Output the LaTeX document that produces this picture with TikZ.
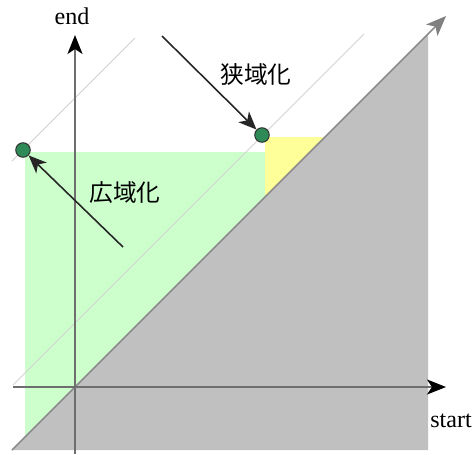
\documentclass[tikz,border=0pt]{standalone}
\usepackage{fontspec}
\setmainfont{Liberation Serif}
\newfontfamily\jpfont{Noto Sans CJK JP}
\usetikzlibrary{arrows.meta, positioning, calc}
\definecolor{regiongray}{HTML}{C0C0C0}
\definecolor{widegreen}{HTML}{CCFFCC}
\definecolor{narrowyellow}{HTML}{FFFF99}
\definecolor{dotgreen}{HTML}{2E8B57}
\definecolor{axisgray}{HTML}{6E6E6E}
\tikzset{
  axis/.style   ={draw=axisgray, line width=1.1pt,
                  -{Stealth[length=0.38cm,width=0.3cm,inset=0.1cm,black]}},
  diag/.style   ={draw=black!45, line width=0.9pt,
                  -{Stealth[length=0.4cm,width=0.32cm,inset=0.1cm,black!50]}},
  isoline/.style={draw=black!18, line width=0.5pt},
  pt/.style     ={circle, draw=black!80, fill=dotgreen, line width=0.6pt,
                  minimum size=0.29cm, inner sep=0pt},
  arr/.style    ={-{Stealth[length=0.36cm,width=0.3cm,inset=0.1cm]},
                  line width=0.9pt, black!85},
  axlbl/.style  ={font=\fontsize{13.7}{16}\selectfont},
  jplbl/.style  ={font=\jpfont\fontsize{13.5}{16}\selectfont},
}
\begin{document}
\begin{tikzpicture}[x=0.02cm, y=-0.02cm]
\useasboundingbox (0,0) rectangle (472,454);

%% ════════════════════════════════════════════════════════════
%%  REGIONS
%% ════════════════════════════════════════════════════════════
\fill[widegreen] (25,152) -- (265,152) -- (265,197) -- (25,437) -- cycle;
\fill[narrowyellow] (265,137) -- (325,137) -- (265,197) -- cycle;
\fill[regiongray] (12,450) -- (428,34) -- (428,450) -- cycle;

% lines of equal length
\draw[isoline] (12,161) -- (135,38);
\draw[isoline] (13,385) -- (364,34);

%% ════════════════════════════════════════════════════════════
%%  AXES
%% ════════════════════════════════════════════════════════════
\coordinate (o)  at (75,387);
\coordinate (xl) at (13,387);
\coordinate (xr) at (446,387);
\coordinate (yb) at (75,454);
\coordinate (yt) at (75,35);
\coordinate (dl) at (12,450);
\coordinate (dr) at (446,16);

\draw[diag] (dl) -- (dr);
\draw[axis] (xl) -- (xr);
\draw[axis] (yb) -- (yt);

\node[axlbl] (lend)   at (72,16)   {end};
\node[axlbl] (lstart) at (451,421) {start};

%% ════════════════════════════════════════════════════════════
%%  POINTS AND LABELS
%% ════════════════════════════════════════════════════════════
\node[pt] (wide)   at (23,150)  {};
\node[pt] (narrow) at (262,135) {};

\coordinate (wfrom) at (123,247);
\coordinate (nfrom) at (162,36);
\draw[arr] (wfrom) -- (wide);
\draw[arr] (nfrom) -- (narrow);

\node[jplbl] (lwide)   at (125,193) {広域化};
\node[jplbl] (lnarrow) at (256,74)  {狭域化};

\end{tikzpicture}
\end{document}
